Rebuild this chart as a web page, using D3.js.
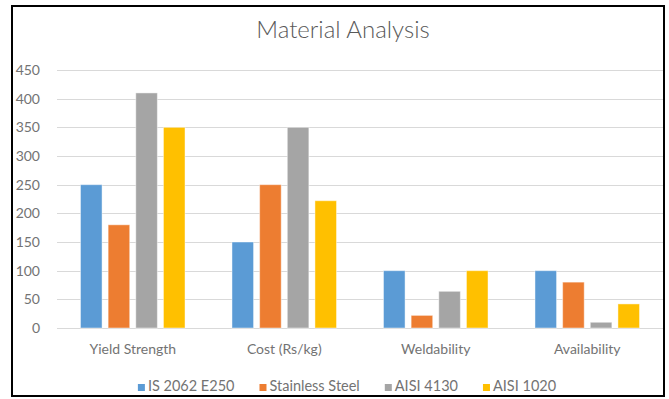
<!DOCTYPE html>
<html>
<head>
<meta charset="utf-8">
<script src="https://cdn.jsdelivr.net/npm/d3@7"></script>
<style>
  html, body { margin: 0; padding: 0; background: #fff; }
  svg { display: block; font-family: Lato, "Open Sans", sans-serif; }
</style>
</head>
<body>
<svg id="chart" width="669" height="399"></svg>
<script>
// Chart data
const categories = ["Yield Strength", "Cost (Rs/kg)", "Weldability", "Availability"];
const seriesNames = ["IS 2062 E250", "Stainless Steel", "AISI 4130", "AISI 1020"];
const is2062 = [250, 150, 100, 100];
const stainless = [180, 250, 22, 80];
const aisi4130 = [410, 350, 64, 10];
const aisi1020 = [350, 222, 100, 42];
const yTicks = [0, 50, 100, 150, 200, 250, 300, 350, 400, 450];
const colors = ["#5b9bd5", "#ed7d31", "#a5a5a5", "#ffc000"];

const seriesValues = [is2062, stainless, aisi4130, aisi1020];
const rows = categories.map((c, i) => ({
  category: c,
  values: seriesNames.map((s, j) => ({ series: s, value: seriesValues[j][i], color: colors[j] }))
}));

const textColor = "#737373";
const svg = d3.select("#chart");
const plot = { left: 57, right: 663, top: 70, bottom: 328 };

const x0 = d3.scaleBand().domain(categories).range([plot.left, plot.right]).paddingInner(0.31).paddingOuter(0.155);
const x1 = d3.scaleBand().domain(seriesNames).range([0, x0.bandwidth()]).paddingInner(0.22);
const y = d3.scaleLinear().domain([0, 450]).range([plot.bottom, plot.top]);

// Outer frame
svg.append("rect")
  .attr("x", 12).attr("y", 6).attr("width", 652).attr("height", 390)
  .attr("fill", "#fff").attr("stroke", "#000").attr("stroke-width", 2);

// Title
svg.append("text")
  .attr("x", 343).attr("y", 38)
  .attr("text-anchor", "middle")
  .attr("font-size", 24).attr("font-weight", 300).attr("fill", "#595959")
  .text("Material Analysis");

// Gridlines
svg.append("g").selectAll("line").data(yTicks).join("line")
  .attr("x1", plot.left).attr("x2", plot.right)
  .attr("y1", d => Math.round(y(d)) + 0.5).attr("y2", d => Math.round(y(d)) + 0.5)
  .attr("stroke", "#d9d9d9").attr("stroke-width", 1);

// Y axis labels
const yAxis = d3.axisLeft(y).tickValues(yTicks).tickSize(0).tickPadding(0);
svg.append("g")
  .attr("transform", `translate(40,0)`)
  .call(yAxis)
  .call(g => g.select(".domain").remove())
  .call(g => g.selectAll("text").attr("font-size", 14).attr("fill", textColor).attr("font-family", "Lato, sans-serif"));

// Bars
const groups = svg.append("g").selectAll("g").data(rows).join("g")
  .attr("transform", d => `translate(${x0(d.category)},0)`);
groups.selectAll("rect").data(d => d.values).join("rect")
  .attr("x", d => x1(d.series))
  .attr("width", x1.bandwidth())
  .attr("y", d => y(d.value))
  .attr("height", d => y(0) - y(d.value))
  .attr("fill", d => d.color)
  .attr("stroke", "rgba(255,255,255,0.45)")
  .attr("stroke-width", 1);

// Category labels
const xAxis = d3.axisBottom(x0).tickSize(0).tickPadding(0);
svg.append("g")
  .attr("transform", `translate(0,344)`)
  .call(xAxis)
  .call(g => g.select(".domain").remove())
  .call(g => g.selectAll("text").attr("font-size", 14).attr("fill", textColor).attr("font-family", "Lato, sans-serif"));

// Legend
const legend = svg.append("g");
const gap = 25;
let cursor = 0;
seriesNames.forEach((s, i) => {
  const item = legend.append("g").attr("transform", `translate(${cursor},0)`);
  item.append("rect").attr("x", 0).attr("y", 384).attr("width", 7).attr("height", 7).attr("fill", colors[i]);
  const t = item.append("text").attr("x", 10).attr("y", 391)
    .attr("font-size", 14.5).attr("fill", textColor).text(s);
  cursor += 10 + t.node().getComputedTextLength() + gap;
});
const legendWidth = cursor - gap;
legend.attr("transform", `translate(${347 - legendWidth / 2},0)`);
</script>
</body>
</html>
